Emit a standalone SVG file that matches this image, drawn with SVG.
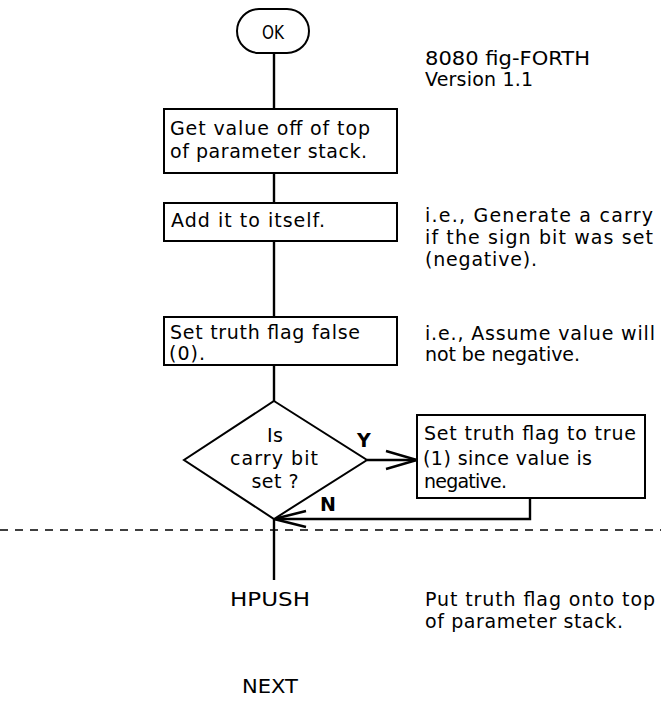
<svg xmlns="http://www.w3.org/2000/svg" width="661" height="704" viewBox="0 0 661 704">
<style>
  text { font-family: "DejaVu Sans", "Liberation Sans", sans-serif; font-size: 19px; fill: #000; }
  .c { text-anchor: middle; }
  .b { font-weight: bold; }
  .box { fill: #fff; stroke: #000; stroke-width: 2; }
  .ln { fill: none; stroke: #000; stroke-width: 2.4; }
  .dash { fill: none; stroke: #000; stroke-width: 1.6; stroke-dasharray: 8 7; }
</style>
<rect width="661" height="704" fill="#fff"/>
<g id="connectors">
  <line class="ln" x1="274" y1="53" x2="274" y2="109"/>
  <line class="ln" x1="274" y1="173" x2="274" y2="203"/>
  <line class="ln" x1="274" y1="241" x2="274" y2="317"/>
  <line class="ln" x1="274" y1="365" x2="274" y2="401"/>
  <line class="ln" x1="367" y1="460" x2="417" y2="460"/>
  <polyline class="ln" points="386,451 417,460 386,469"/>
  <polyline class="ln" points="530,498 530,519 274,519"/>
  <polyline class="ln" points="306,511 274,519 306,527"/>
  <line class="ln" x1="274" y1="519" x2="274" y2="580"/>
  <line class="dash" x1="0" y1="530" x2="661" y2="530"/>
</g>
<g id="start">
  <rect class="box" x="237" y="9" width="72" height="44" rx="22"/>
  <text class="c" x="273" y="39" textLength="22" lengthAdjust="spacingAndGlyphs">OK</text>
</g>
<g id="title">
  <text x="425" y="65" textLength="165" lengthAdjust="spacingAndGlyphs">8080 fig-FORTH</text>
  <text x="425" y="86" textLength="108">Version 1.1</text>
</g>
<g id="get">
  <rect class="box" x="164" y="109" width="233" height="64"/>
  <text x="170" y="135" textLength="200">Get value off of top</text>
  <text x="170" y="158" textLength="197">of parameter stack.</text>
</g>
<g id="add">
  <rect class="box" x="164" y="203" width="233" height="38"/>
  <text x="171" y="227" textLength="154">Add it to itself.</text>
</g>
<g id="note1">
  <text x="425" y="222" textLength="228">i.e., Generate a carry</text>
  <text x="425" y="244" textLength="228">if the sign bit was set</text>
  <text x="425" y="266" textLength="112">(negative).</text>
</g>
<g id="setfalse">
  <rect class="box" x="164" y="317" width="233" height="48"/>
  <text x="170" y="339" textLength="190">Set truth flag false</text>
  <text x="169" y="360" textLength="36">(0).</text>
</g>
<g id="note2">
  <text x="425" y="340" textLength="230">i.e., Assume value will</text>
  <text x="425" y="361" textLength="155">not be negative.</text>
</g>
<g id="decision">
  <polygon class="box" points="274,401 367,460 274,519 184,460"/>
  <text class="c" x="275" y="442" textLength="16">Is</text>
  <text class="c" x="274" y="465" textLength="88">carry bit</text>
  <text class="c" x="275" y="488" textLength="47">set ?</text>
  <text class="b" x="357" y="447">Y</text>
  <text class="b" x="320" y="511">N</text>
</g>
<g id="settrue">
  <rect class="box" x="417" y="415" width="228" height="83"/>
  <text x="424" y="440" textLength="212">Set truth flag to true</text>
  <text x="423" y="465" textLength="169">(1) since value is</text>
  <text x="424" y="488" textLength="83">negative.</text>
</g>
<g id="hpush">
  <text x="230" y="606" textLength="80" lengthAdjust="spacingAndGlyphs">HPUSH</text>
</g>
<g id="note3">
  <text x="425" y="606" textLength="230">Put truth flag onto top</text>
  <text x="425" y="628" textLength="198">of parameter stack.</text>
</g>
<g id="next">
  <text x="242" y="693" textLength="56" lengthAdjust="spacingAndGlyphs">NEXT</text>
</g>
</svg>
